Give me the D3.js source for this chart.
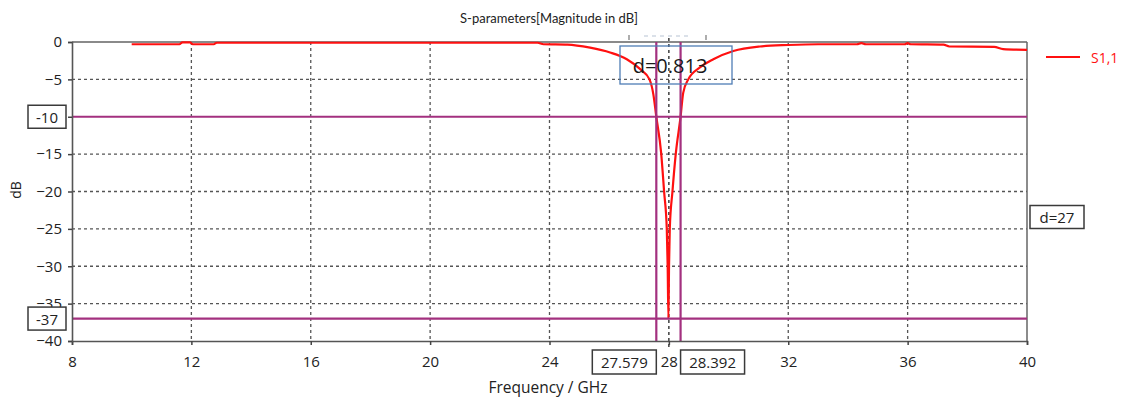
<!DOCTYPE html>
<html>
<head>
<meta charset="utf-8">
<script src="https://cdn.jsdelivr.net/npm/d3@7"></script>
<style>
  html, body { margin: 0; padding: 0; background: #fff; }
  svg { display: block; font-family: "Open Sans", "DejaVu Sans", sans-serif; }
</style>
</head>
<body>
<svg id="chart" width="1127" height="399"></svg>
<script>
// S1,1 magnitude (dB) versus frequency (GHz)
const freqGHz = [10, 11.6, 11.7, 11.95, 12.05, 12.75, 12.85, 18, 23.6, 23.8, 24.6,
  25.36, 26.03, 26.59, 27.03, 27.35, 27.48, 27.579, 27.74, 27.84, 27.93, 27.96,
  27.985, 28.005, 28.03, 28.12, 28.23, 28.392, 28.48, 28.65, 29.04, 29.49, 30.16,
  31.05, 32.0, 33.0, 34.3, 34.45, 34.6, 35.9, 36.0, 36.1, 37.2, 37.4, 38.9, 39.2, 40];
const s11dB = [-0.3, -0.3, -0.05, -0.05, -0.3, -0.3, -0.1, -0.1, -0.1, -0.3, -0.35,
  -0.76, -1.4, -2.3, -3.6, -5.0, -7.0, -10, -14.8, -20, -25, -30,
  -37, -30, -25, -20, -15, -10, -6.8, -5.0, -3.4, -2.3, -1.2,
  -0.6, -0.4, -0.3, -0.3, -0.15, -0.3, -0.3, -0.15, -0.3, -0.35, -0.6, -0.65, -0.95, -1.05];

// axes
const xTicks = [8, 12, 16, 20, 24, 28, 32, 36, 40];
const yTicks = [0, -5, -10, -15, -20, -25, -30, -35, -40];
const xGrid = [12, 16, 20, 24, 32, 36];
const yGrid = [-5, -15, -20, -25, -30, -35];

// markers
const levelMarks = [-10, -37];
const freqMarks = [27.579, 28.392];
const centerFreq = [28];
const bandwidthLabel = ["d=0.813"];
const levelDiffLabel = ["d=27"];
const seriesName = ["S1,1"];

const svg = d3.select("#chart");
const m = { left: 72, right: 1027, top: 42, bottom: 341 };

const x = d3.scaleLinear().domain([8, 40]).range([m.left, m.right]);
const y = d3.scaleLinear().domain([-40, 0]).range([m.bottom, m.top]);

const purple = "#a3307f";
const gridColor = "#555";
const textColor = "#222";

// grid
svg.append("g").selectAll("line").data(xGrid).join("line")
  .attr("x1", d => x(d)).attr("x2", d => x(d))
  .attr("y1", m.top).attr("y2", m.bottom)
  .attr("stroke", gridColor).attr("stroke-width", 1.3).attr("stroke-dasharray", "3,3");
svg.append("g").selectAll("line").data(yGrid).join("line")
  .attr("x1", m.left).attr("x2", m.right)
  .attr("y1", d => y(d)).attr("y2", d => y(d))
  .attr("stroke", gridColor).attr("stroke-width", 1.3).attr("stroke-dasharray", "3,3");

// frame top/right
svg.append("line").attr("x1", m.left).attr("x2", m.right).attr("y1", m.top).attr("y2", m.top)
  .attr("stroke", "#8a8a8a").attr("stroke-width", 2);
svg.append("line").attr("x1", m.right).attr("x2", m.right).attr("y1", m.top).attr("y2", m.bottom)
  .attr("stroke", "#666").attr("stroke-width", 1.5);

// center frequency marker (dashed)
svg.append("g").selectAll("line").data(centerFreq).join("line")
  .attr("x1", d => x(d)).attr("x2", d => x(d))
  .attr("y1", m.top - 4).attr("y2", m.bottom + 8)
  .attr("stroke", "#222").attr("stroke-width", 1.3).attr("stroke-dasharray", "3,3");

// marker label edge peeking out under the title
svg.append("g").selectAll("line").data([629, 706]).join("line")
  .attr("x1", d => d).attr("x2", d => d).attr("y1", 35).attr("y2", 40)
  .attr("stroke", "#777").attr("stroke-width", 1.2);
svg.append("line").attr("x1", 644).attr("x2", 690).attr("y1", 36).attr("y2", 36)
  .attr("stroke", "#b8c4d4").attr("stroke-width", 1.2).attr("stroke-dasharray", "4,4");

// curve
const pts = freqGHz.map((f, i) => [f, s11dB[i]]);
svg.append("path").datum(pts)
  .attr("fill", "none").attr("stroke", "#ff1010").attr("stroke-width", 2.2)
  .attr("stroke-linejoin", "round")
  .attr("d", d3.line().x(d => x(d[0])).y(d => y(d[1])).curve(d3.curveMonotoneX));

// level and frequency marker lines
svg.append("g").selectAll("line").data(levelMarks).join("line")
  .attr("x1", m.left).attr("x2", m.right)
  .attr("y1", d => y(d)).attr("y2", d => y(d))
  .attr("stroke", purple).attr("stroke-width", 2.2);
svg.append("g").selectAll("line").data(freqMarks).join("line")
  .attr("x1", d => x(d)).attr("x2", d => x(d))
  .attr("y1", m.top).attr("y2", m.bottom)
  .attr("stroke", purple).attr("stroke-width", 2.2);

// axes (the -10 tick label sits under its level marker box, so it is left blank)
const xAxis = d3.axisBottom(x).tickValues(xTicks).tickSize(4).tickFormat(d3.format("d"));
const yAxis = d3.axisLeft(y).tickValues(yTicks).tickSize(4)
  .tickFormat(d => levelMarks.includes(d) ? "" : d3.format("d")(d));
const gx = svg.append("g").attr("transform", `translate(0,${m.bottom})`).call(xAxis);
const gy = svg.append("g").attr("transform", `translate(${m.left},0)`).call(yAxis);
[gx, gy].forEach(g => {
  g.select(".domain").attr("stroke", "#555").attr("stroke-width", 1.6);
  g.selectAll(".tick line").attr("stroke", "#444").attr("stroke-width", 1.5);
  g.selectAll(".tick text").attr("fill", textColor).style("font-size", "15px")
    .style("font-family", "'Open Sans', sans-serif");
});
gx.selectAll(".tick text").attr("dy", "1.1em").attr("y", 9);
gy.selectAll(".tick text").attr("x", -10);

// boxed marker labels
function boxLabel(cx, cy, w, h, text, opts = {}) {
  const g = svg.append("g");
  g.append("rect").attr("x", cx - w / 2).attr("y", cy - h / 2).attr("width", w).attr("height", h)
    .attr("fill", opts.fill === undefined ? "#fff" : opts.fill)
    .attr("stroke", opts.stroke || "#3a3a3a").attr("stroke-width", opts.sw || 1.5);
  g.append("text").attr("x", cx + (opts.dx || 0)).attr("y", cy).attr("text-anchor", "middle")
    .attr("dominant-baseline", "central")
    .attr("fill", opts.color || textColor).style("font-size", (opts.size || 15) + "px")
    .text(text);
}
levelMarks.forEach(v => boxLabel(47, y(v), 38, 23, String(v)));
boxLabel(x(freqMarks[0]) - 32, 362, 64, 24, d3.format(".3f")(freqMarks[0]));
boxLabel(x(freqMarks[1]) + 32, 362, 64, 24, d3.format(".3f")(freqMarks[1]));
boxLabel(1057, 217, 54, 23, levelDiffLabel[0]);
boxLabel(676, 65, 112, 38, bandwidthLabel[0],
  { fill: "none", stroke: "#4f7db5", sw: 1.3, size: 20, color: "#1a1a1a", dx: -6 });

// legend
svg.append("line").attr("x1", 1046).attr("x2", 1080).attr("y1", 57).attr("y2", 57)
  .attr("stroke", "#ff1010").attr("stroke-width", 2.2);
svg.append("text").attr("x", 1091).attr("y", 57).attr("dominant-baseline", "central")
  .attr("fill", "#ff1010").style("font-size", "14px").text(seriesName[0]);

// titles
svg.append("text").attr("x", 549).attr("y", 18).attr("text-anchor", "middle")
  .attr("dominant-baseline", "central").attr("fill", textColor)
  .style("font-family", "Lato, 'Open Sans', sans-serif").style("font-size", "13px")
  .text("S-parameters[Magnitude in dB]");
svg.append("text").attr("x", 548).attr("y", 387).attr("text-anchor", "middle")
  .attr("dominant-baseline", "central").attr("fill", textColor).style("font-size", "15.5px")
  .text("Frequency / GHz");
svg.append("text").attr("transform", "translate(15,190) rotate(-90)").attr("text-anchor", "middle")
  .attr("dominant-baseline", "central").attr("fill", textColor).style("font-size", "14px")
  .text("dB");
</script>
</body>
</html>
